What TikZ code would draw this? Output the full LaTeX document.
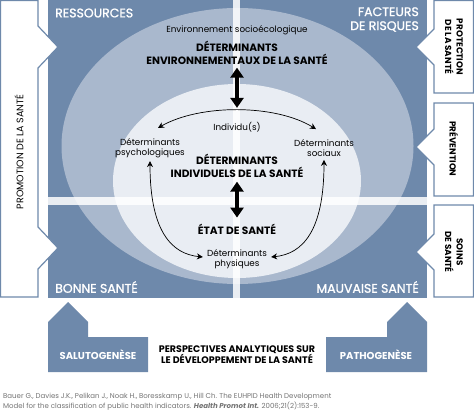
\documentclass[tikz,border=0pt]{standalone}
\usepackage{fontspec}
\setmainfont{Poppins}
\newfontfamily\quadfont[FakeBold=1.2]{Poppins}
\usetikzlibrary{calc, positioning}
\usetikzlibrary{arrows.meta}

\definecolor{slate}{HTML}{6E89AB}
\definecolor{mist}{HTML}{A9B8CD}
\definecolor{pale}{HTML}{E9EDF3}

\tikzset{
  quadlabel/.style={text=white, font=\quadfont\fontsize{12.5}{14}\selectfont, inner sep=0pt},
  sidebox/.style={draw=slate, line width=1.2pt, fill=white},
  sidelabel/.style={font=\fontsize{9.5}{11}\selectfont, align=center, inner sep=0pt},
  headlabel/.style={font=\bfseries\fontsize{10.6}{12.5}\selectfont, align=center, inner sep=0pt},
  detlabel/.style={font=\fontsize{8.8}{10.5}\selectfont, align=center, inner sep=0pt},
  bigarrow/.style={line width=3.2pt, {Triangle[width=13pt,length=10pt]}-{Triangle[width=13pt,length=10pt]}},
  thinarrow/.style={line width=0.7pt, {Stealth[width=6pt,length=6pt]}-{Stealth[width=6pt,length=6pt]}},
}

\begin{document}
\begin{tikzpicture}[x=1pt,y=-1pt]
\useasboundingbox (0,0) rectangle (474,414);

% Quadrants and the two ellipses
\fill[slate] (48,0) rectangle (427,298);
\fill[mist] (237.5,146) ellipse [x radius=176, y radius=138];
\fill[pale] (237,181) ellipse [x radius=124, y radius=97];
\fill[white, opacity=0.85] (233,0) rectangle (240,298);
\fill[white, opacity=0.85] (48,197) rectangle (427,205);

% Side boxes
\draw[sidebox] (0.6,0.6) -- (38,0.6) -- (38,26) -- (58,47) -- (38,68)
    -- (38,227) -- (58,248) -- (38,269) -- (38,297) -- (0.6,297) -- cycle;
\draw[sidebox] (434,0.6) -- (473.4,0.6) -- (473.4,93) -- (434,93)
    -- (434,65) -- (416,47) -- (434,29) -- cycle;
\draw[sidebox] (434,103) -- (473.4,103) -- (473.4,196) -- (434,196)
    -- (434,165) -- (416,147) -- (434,129) -- cycle;
\draw[sidebox] (434,205) -- (473.4,205) -- (473.4,297) -- (434,297)
    -- (434,270) -- (416,252) -- (434,234) -- cycle;
\node[sidelabel, rotate=90] (promo) at (19,152) {PROMOTION DE LA SANTÉ};
\node[sidelabel, rotate=-90, font=\bfseries\fontsize{8.8}{11.5}\selectfont] (protect) at (454,47) {PROTECTION\\DE LA SANTÉ};
\node[sidelabel, rotate=-90, font=\bfseries\fontsize{8.8}{11.5}\selectfont] (prev) at (454,149) {PRÉVENTION};
\node[sidelabel, rotate=-90, font=\bfseries\fontsize{8.8}{11.5}\selectfont] (soins) at (454,252) {SOINS\\DE SANTÉ};

% Quadrant labels
\node[quadlabel, anchor=west] (res) at (55,13) {RESSOURCES};
\node[quadlabel, anchor=east, align=right] (risk) at (419,19.5) {FACTEURS\\DE RISQUES};
\node[quadlabel, anchor=west] (good) at (55,287) {BONNE SANTÉ};
\node[quadlabel, anchor=east] (bad) at (419,287) {MAUVAISE SANTÉ};

% Determinants
\node[detlabel] (eco) at (237,30) {Environnement socioécologique};
\node[headlabel] (envdet) at (237,53) {DÉTERMINANTS\\ENVIRONNEMENTAUX DE LA SANTÉ};
\node[detlabel] (indiv) at (237,127) {Individu(s)};
\node[headlabel] (inddet) at (237,166) {DÉTERMINANTS\\INDIVIDUELS DE LA SANTÉ};
\node[headlabel] (etat) at (237,229) {ÉTAT DE SANTÉ};
\node[detlabel] (psych) at (150,148) {Déterminants\\psychologiques};
\node[detlabel] (social) at (324,148) {Déterminants\\sociaux};
\node[detlabel] (phys) at (237,259) {Déterminants\\physiques};

\draw[bigarrow, shorten <=3pt, shorten >=14pt] (envdet.south) -- (indiv.north);
\draw[bigarrow, shorten <=4pt, shorten >=6pt] (inddet.south) -- (etat.north);
\draw[thinarrow] ($(psych.north)+(8,-10)$) .. controls (200,104) and (275,104) .. ($(social.north)+(-8,-10)$);
\draw[thinarrow] ($(psych.south)+(0,3)$) .. controls (150,232) and (172,254) .. ($(phys.west)+(-4,-2)$);
\draw[thinarrow] ($(social.south)+(0,3)$) .. controls (324,232) and (302,254) .. ($(phys.east)+(4,-2)$);

% Analytic perspectives
\fill[slate] (48,372) -- (48,322) -- (68,302) -- (88,322) -- (88,337) -- (148,337) -- (148,372) -- cycle;
\fill[slate] (427,372) -- (427,322) -- (407,302) -- (387,322) -- (387,337) -- (326,337) -- (326,372) -- cycle;
\node[headlabel, text=white, font=\bfseries\fontsize{10}{12}\selectfont] (salut) at (98,355) {SALUTOGENÈSE};
\node[headlabel, text=white, font=\bfseries\fontsize{10}{12}\selectfont] (patho) at (376,355) {PATHOGENÈSE};
\node[headlabel, font=\bfseries\fontsize{9.5}{11}\selectfont] (persp) at (237,355) {PERSPECTIVES ANALYTIQUES SUR\\LE DÉVELOPPEMENT DE LA SANTÉ};

% Source
\node[anchor=north west, align=left, inner sep=0pt, text=black!55, font=\fontsize{7}{10}\selectfont] (cite) at (3,393)
  {Bauer G., Davies J.K., Pelikan J., Noak H., Boresskamp U., Hill Ch. The EUHPID Health Development\\
   Model for the classification of public health indicators. \textbf{\itshape Health Promot Int.} 2006;21(2):153-9.};
\end{tikzpicture}
\end{document}
